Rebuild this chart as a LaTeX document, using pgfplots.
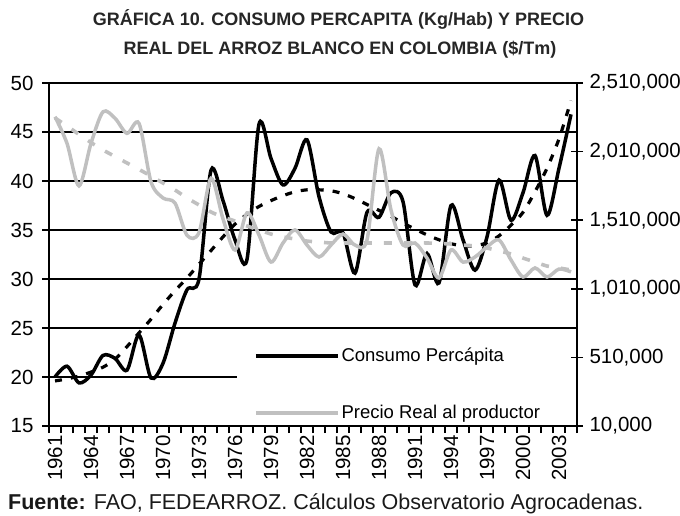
\documentclass[border=0pt]{standalone}
\usepackage{fontspec}
\setmainfont{Liberation Sans}
\usepackage{pgfplots}
\pgfplotsset{compat=1.18}
\definecolor{pgray}{RGB}{192,192,192}
\newcommand{\tickfont}{\fontsize{20.5bp}{22bp}\selectfont}
\newcommand{\legfont}{\fontsize{18.5bp}{21bp}\selectfont}

\pgfplotstableread{
year cons
1961 20.0
1962 21.1
1963 19.4
1964 20.2
1965 22.2
1966 21.9
1967 20.7
1968 24.3
1969 19.9
1970 21.4
1971 25.5
1972 28.9
1973 30.0
1974 41.1
1975 38.0
1976 34.0
1977 32.0
1978 45.8
1979 42.3
1980 39.6
1981 41.3
1982 44.2
1983 38.4
1984 34.8
1985 34.7
1986 30.6
1987 36.8
1988 36.3
1989 38.8
1990 37.9
1991 29.4
1992 32.6
1993 29.6
1994 37.5
1995 34.0
1996 30.9
1997 34.3
1998 40.1
1999 36.0
2000 38.8
2001 42.6
2002 36.5
2003 41.3
2004 46.8
}\consdata

\pgfplotstableread{
year trend
1961 19.6
1962 19.8
1963 20.1
1964 20.5
1965 21.0
1966 21.8
1967 23.1
1968 24.5
1969 25.9
1970 27.4
1971 28.8
1972 30.1
1973 31.5
1974 32.9
1975 34.3
1976 35.6
1977 36.6
1978 37.4
1979 38.0
1980 38.5
1981 38.9
1982 39.1
1983 39.1
1984 39.0
1985 38.7
1986 38.2
1987 37.6
1988 37.0
1989 36.4
1990 35.7
1991 35.1
1992 34.5
1993 34.0
1994 33.6
1995 33.4
1996 33.4
1997 33.7
1998 34.4
1999 35.5
2000 36.8
2001 38.9
2002 41.3
2003 44.3
2004 48.2
}\constrend

\pgfplotstableread{
year price
1961 2264000
1962 2070000
1963 1760000
1964 2070000
1965 2300000
1966 2253000
1967 2143000
1968 2216000
1969 1790000
1970 1672000
1971 1635000
1972 1400000
1973 1420000
1974 1815000
1975 1520000
1976 1293000
1977 1563000
1978 1402000
1979 1205000
1980 1344000
1981 1439000
1982 1329000
1983 1242000
1984 1329000
1985 1409000
1986 1329000
1987 1366000
1988 2030000
1989 1584000
1990 1329000
1991 1344000
1992 1234000
1993 1089000
1994 1293000
1995 1205000
1996 1242000
1997 1315000
1998 1366000
1999 1220000
2000 1096000
2001 1162000
2002 1096000
2003 1154000
2004 1133000
}\pricedata

\pgfplotstableread{
year trend
1961 2255000
1962 2197000
1963 2135000
1964 2076000
1965 2022000
1966 1974000
1967 1927000
1968 1880000
1969 1832000
1970 1781000
1971 1730000
1972 1672000
1973 1621000
1974 1570000
1975 1533000
1976 1504000
1977 1468000
1978 1439000
1979 1409000
1980 1388000
1981 1373000
1982 1358000
1983 1351000
1984 1344000
1985 1344000
1986 1344000
1987 1344000
1988 1344000
1989 1344000
1990 1344000
1991 1344000
1992 1344000
1993 1340000
1994 1337000
1995 1329000
1996 1322000
1997 1307000
1998 1286000
1999 1264000
2000 1234000
2001 1205000
2002 1176000
2003 1162000
2004 1147000
}\pricetrend

\begin{document}
\begin{tikzpicture}
\path[use as bounding box] (-49bp,-90bp) rectangle (631bp,426bp);
\node[anchor=base, font=\fontsize{18bp}{20bp}\selectfont\bfseries, text=black!85] at (289.5bp,400bp) {GRÁFICA 10. CONSUMO PERCAPITA (Kg/Hab) Y PRECIO};
\node[anchor=base, font=\fontsize{18bp}{20bp}\selectfont\bfseries, text=black!85] at (291bp,371bp) {REAL DEL ARROZ BLANCO EN COLOMBIA (\$/Tm)};
\node[anchor=base west, font=\fontsize{21.5bp}{23bp}\selectfont, text=black!90, inner sep=0pt] at (-41bp,-83bp) {\textbf{Fuente:} FAO, FEDEARROZ. Cálculos Observatorio Agrocadenas.};

\begin{axis}[
  at={(0,0)}, anchor=south west,
  scale only axis, width=528bp, height=343bp,
  xmin=1960.5, xmax=2004.5, ymin=15, ymax=50,
  axis x line*=bottom, axis y line*=left,
  axis line style={line width=2.4bp, -},
  xtick={1961,1964,...,2003},
  minor xtick={1960.5,1961.5,...,2004.5},
  ytick={15,20,...,50},
  ymajorgrids,
  grid style={black, line width=1.6bp},
  tick align=outside,
  major tick length=7bp, minor tick length=7bp,
  tick style={black, line width=1.5bp},
  major x tick style={draw=none},
  /pgf/number format/.cd, 1000 sep={}, assume math mode=true,
  /pgfplots/.cd,
  xticklabel style={rotate=90, anchor=east, font=\tickfont, inner sep=2bp},
  yticklabel style={font=\tickfont, xshift=-5bp},
  legend cell align=left,
  legend image code/.code={\draw[#1] (0bp,0bp) -- (82bp,0bp);},
  legend style={draw=none, fill=none, at={(0.388,0.233)}, anchor=north west,
     inner sep=0pt, row sep=38bp, font=\legfont,
     /tikz/every even column/.append style={column sep=6bp}},
]
\fill[white] (rel axis cs:0.356,0.0045) rectangle (rel axis cs:1,0.26);
\addplot[black, line width=3.5bp, smooth] table[x=year, y=cons] {\consdata};
\addlegendentry{Consumo Percápita}
\addplot[black, line width=3.2bp, dash pattern=on 7bp off 9bp, smooth, forget plot] table[x=year, y=trend] {\constrend};
\addlegendimage{pgray, line width=3.5bp}
\addlegendentry{Precio Real al productor}
\end{axis}

\begin{axis}[
  at={(0,0)}, anchor=south west,
  scale only axis, width=528bp, height=343bp,
  xmin=1960.5, xmax=2004.5, ymin=10000, ymax=2510000,
  axis x line=none, axis y line*=right,
  axis line style={line width=2.4bp, -},
  ytick={10000,510000,1010000,1510000,2010000,2510000},
  scaled y ticks=false,
  tick align=center, major tick length=12bp,
  tick style={black, line width=1.5bp},
  yticklabel style={font=\tickfont, xshift=3bp, /pgf/number format/.cd, fixed, 1000 sep={,}, assume math mode=true},
]
\addplot[pgray, line width=3.5bp, smooth] table[x=year, y=price] {\pricedata};
\addplot[pgray, line width=3.6bp, dash pattern=on 8bp off 12bp, smooth] table[x=year, y=trend] {\pricetrend};
\end{axis}
\end{tikzpicture}
\end{document}
